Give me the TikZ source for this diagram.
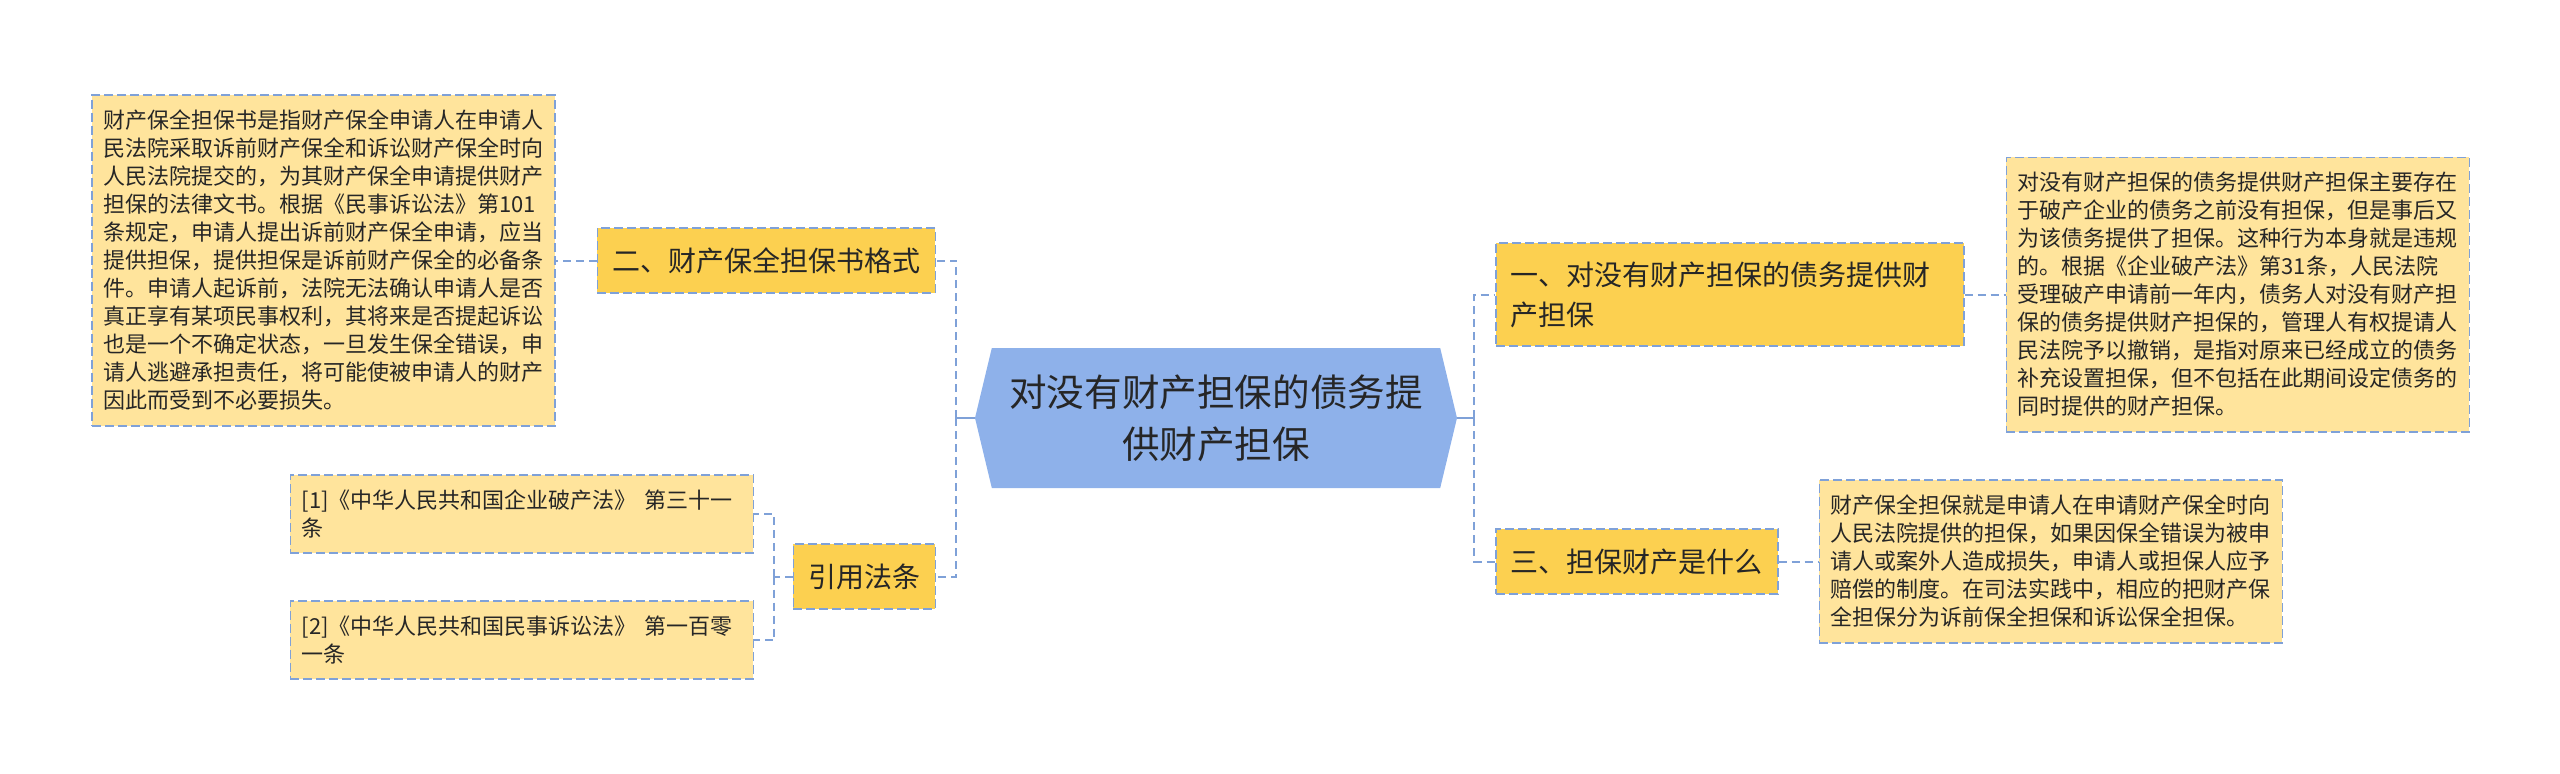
\documentclass[tikz,border=0pt]{standalone}
\usepackage{fontspec}
\setmainfont{Noto Sans CJK SC}
\usetikzlibrary{positioning,shapes.symbols}
\definecolor{linkblue}{RGB}{127,161,216}
\definecolor{hubblue}{RGB}{142,177,234}
\definecolor{gold}{RGB}{252,208,80}
\definecolor{cream}{RGB}{255,228,156}
\definecolor{ink}{RGB}{38,38,38}

\begin{document}
\begin{tikzpicture}[
      x=0.5pt,y=-0.5pt,
      node distance=20.5pt,
      hub/.style={shape=signal,signal to=west and east,signal pointer angle=153,
        fill=hubblue,minimum width=241pt,minimum height=70pt,inner sep=0pt,
        align=center,text=ink,font=\fontsize{18.8}{26}\selectfont},
      topic/.style={draw=linkblue,dash pattern=on 4.5pt off 2pt,line width=0.75pt,
        fill=gold,minimum height=32.5pt,inner xsep=7.5pt,inner ysep=0pt,
        align=left,text=ink,font=\fontsize{14}{20}\selectfont},
      leaf/.style={draw=linkblue,dash pattern=on 4.5pt off 2pt,line width=0.75pt,
        fill=cream,text width=220pt,align=left,inner xsep=5.75pt,inner ysep=7.5pt,
        text=ink,font=\fontsize{11}{14}\selectfont},
      link/.style={draw=linkblue,line width=1pt,dash pattern=on 4pt off 2.5pt},
      stub/.style={draw=linkblue,line width=1pt}
    ]
      \useasboundingbox (0,0) rectangle (2560,773);

      \node[hub](hub) at (1216,418){对没有财产担保的债务提\\供财产担保};

      \node[topic,anchor=west,text width=219pt,minimum height=51.5pt](b1) at (1495,294.5)
        {一、对没有财产担保的债务提供财\\产担保};
      \node[topic,anchor=east](b2) at (936,260.5){二、财产保全担保书格式};
      \node[topic,anchor=west](b3) at (1495,561.5){三、担保财产是什么};
      \node[topic,anchor=east](b4) at (936,576.5){引用法条};

      \node[leaf,right=of b1](leaf1){对没有财产担保的债务提供财产担保主要存在\\
        于破产企业的债务之前没有担保，但是事后又\\
        为该债务提供了担保。这种行为本身就是违规\\
        的。根据《企业破产法》第31条，人民法院\\
        受理破产申请前一年内，债务人对没有财产担\\
        保的债务提供财产担保的，管理人有权提请人\\
        民法院予以撤销，是指对原来已经成立的债务\\
        补充设置担保，但不包括在此期间设定债务的\\
        同时提供的财产担保。};
      \node[leaf,left=of b2](leaf2){财产保全担保书是指财产保全申请人在申请人\\
        民法院采取诉前财产保全和诉讼财产保全时向\\
        人民法院提交的，为其财产保全申请提供财产\\
        担保的法律文书。根据《民事诉讼法》第101\\
        条规定，申请人提出诉前财产保全申请，应当\\
        提供担保，提供担保是诉前财产保全的必备条\\
        件。申请人起诉前，法院无法确认申请人是否\\
        真正享有某项民事权利，其将来是否提起诉讼\\
        也是一个不确定状态，一旦发生保全错误，申\\
        请人逃避承担责任，将可能使被申请人的财产\\
        因此而受到不必要损失。};
      \node[leaf,right=20pt of b3](leaf3){财产保全担保就是申请人在申请财产保全时向\\
        人民法院提供的担保，如果因保全错误为被申\\
        请人或案外人造成损失，申请人或担保人应予\\
        赔偿的制度。在司法实践中，相应的把财产保\\
        全担保分为诉前保全担保和诉讼保全担保。};
      \node[leaf,anchor=east](cite1) at (754,514)
        {[1]《中华人民共和国企业破产法》 第三十一\\条};
      \node[leaf,anchor=east](cite2) at (754,640)
        {[2]《中华人民共和国民事诉讼法》 第一百零\\一条};

      \coordinate (jl) at (956,418);
      \coordinate (jr) at (1474,418);
      \coordinate (jc) at (774,576.5);

      \draw[stub](hub.west)--(jl);
      \draw[stub](hub.east)--(jr);
      \draw[link](jl)|-(b2.east);
      \draw[link](jl)|-(b4.east);
      \draw[link](jr)|-(b1.west);
      \draw[link](jr)|-(b3.west);
      \draw[link](b1.east)--(leaf1.west);
      \draw[link](b2.west)--(leaf2.east);
      \draw[link](b3.east)--(leaf3.west);
      \draw[link](b4.west)--(jc);
      \draw[link](jc)|-(cite1.east);
      \draw[link](jc)|-(cite2.east);
    \end{tikzpicture}
\end{document}
